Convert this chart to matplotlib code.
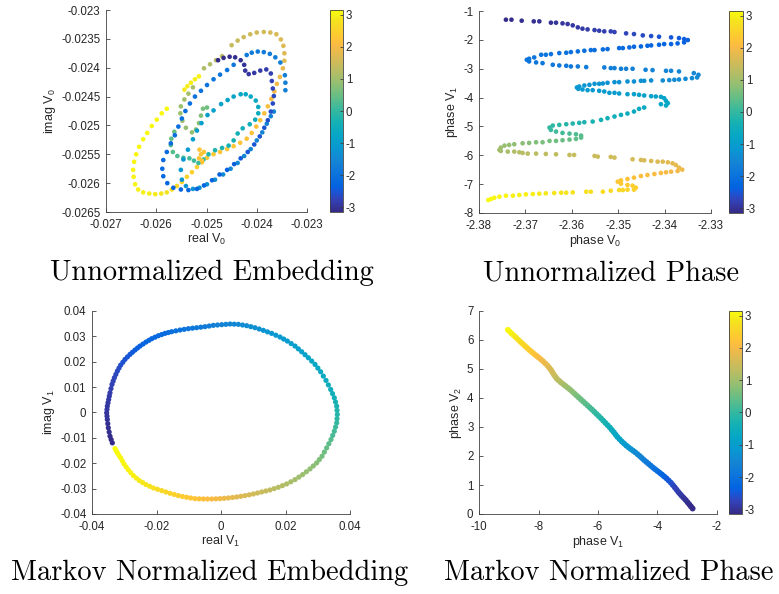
import numpy as np
import matplotlib
matplotlib.use('Agg')
import matplotlib.pyplot as plt
from matplotlib.colors import LinearSegmentedColormap

plt.rcParams['font.family'] = ['Liberation Sans', 'DejaVu Sans']
plt.rcParams['mathtext.fontset'] = 'custom'
plt.rcParams['mathtext.rm'] = 'Liberation Sans'
plt.rcParams['mathtext.it'] = 'Liberation Sans:italic'
plt.rcParams['mathtext.default'] = 'regular'
plt.rcParams['axes.unicode_minus'] = False

# ---------------- Panel 1: Unnormalized Embedding (real V0, imag V0, phase colour)
p1_x = [-0.02579, -0.02589, -0.02599, -0.02609, -0.02618, -0.02626, -0.02634, -0.02640, -0.02644, -0.02646,
        -0.02645, -0.02642, -0.02636, -0.02626, -0.02614, -0.02602, -0.02590, -0.02579,
        -0.02569, -0.02559, -0.02549, -0.02539, -0.02529, -0.02519, -0.02509, -0.02499, -0.02486, -0.02473,
        -0.02459, -0.02446, -0.02433, -0.02420, -0.02410, -0.02401, -0.02393, -0.02385, -0.02378, -0.02371,
        -0.02365, -0.02360, -0.02354,
        -0.02348, -0.02345, -0.02345, -0.02347, -0.02352, -0.02361, -0.02373, -0.02386, -0.02400, -0.02413,
        -0.02426, -0.02438, -0.02450,
        -0.02469, -0.02481, -0.02493, -0.02505,
        -0.02515, -0.02523, -0.02531, -0.02538, -0.02544,
        -0.02527, -0.02536, -0.02544, -0.02551, -0.02552, -0.02548, -0.02541, -0.02529, -0.02521, -0.02515,
        -0.02511, -0.02507, -0.02499,
        -0.02564, -0.02570, -0.02571, -0.02567, -0.02558, -0.02546, -0.02534, -0.02525, -0.02516,
        -0.02506, -0.02496, -0.02483, -0.02469, -0.02456, -0.02446, -0.02438, -0.02428, -0.02414, -0.02403,
        -0.02397, -0.02397, -0.02402, -0.02412, -0.02422, -0.02432,
        -0.02446, -0.02458, -0.02471, -0.02486, -0.02498, -0.02510, -0.02519, -0.02527, -0.02537, -0.02546,
        -0.02551, -0.02549, -0.02541, -0.02527, -0.02514,
        -0.02499, -0.02483, -0.02467, -0.02452, -0.02438, -0.02425, -0.02412, -0.02400, -0.02389, -0.02380,
        -0.02372, -0.02366,
        -0.02343, -0.02343, -0.02344, -0.02353, -0.02363, -0.02374, -0.02386, -0.02398, -0.02410, -0.02420,
        -0.02446, -0.02459, -0.02473, -0.02486, -0.02499, -0.02511, -0.02523, -0.02533, -0.02542, -0.02549,
        -0.02556, -0.02563, -0.02571, -0.02579, -0.02586, -0.02588, -0.02586, -0.02578, -0.02566, -0.02551,
        -0.02536, -0.02519, -0.02505, -0.02489, -0.02474, -0.02459, -0.02445, -0.02432, -0.02418, -0.02405,
        -0.02394, -0.02385, -0.02378, -0.02372, -0.02368, -0.02366,
        -0.02368, -0.02370, -0.02372, -0.02381, -0.02393, -0.02405, -0.02416, -0.02423, -0.02425, -0.02432,
        -0.02443, -0.02454, -0.02466, -0.02477,
        -0.02514, -0.02511, -0.02515, -0.02509, -0.02505]
p1_y = [-0.02471, -0.02479, -0.02490, -0.02501, -0.02513, -0.02524, -0.02537, -0.02550, -0.02563, -0.02577,
        -0.02589, -0.02602, -0.02611, -0.02616, -0.02618, -0.02619, -0.02618, -0.02616,
        -0.02611, -0.02605, -0.02598, -0.02589, -0.02581, -0.02572, -0.02564, -0.02556, -0.02550, -0.02546,
        -0.02541, -0.02536, -0.02530, -0.02523, -0.02513, -0.02502, -0.02491, -0.02479, -0.02467, -0.02454,
        -0.02441, -0.02428, -0.02416,
        -0.02401, -0.02388, -0.02375, -0.02362, -0.02351, -0.02342, -0.02339, -0.02338, -0.02339, -0.02342,
        -0.02347, -0.02353, -0.02361,
        -0.02380, -0.02387, -0.02394, -0.02401,
        -0.02415, -0.02420, -0.02426, -0.02432, -0.02438,
        -0.02434, -0.02445, -0.02455, -0.02467, -0.02479, -0.02492, -0.02504, -0.02512, -0.02507, -0.02496,
        -0.02483, -0.02471, -0.02469,
        -0.02511, -0.02523, -0.02534, -0.02546, -0.02553, -0.02556, -0.02557, -0.02561, -0.02565,
        -0.02559, -0.02550, -0.02543, -0.02539, -0.02535, -0.02526, -0.02514, -0.02505, -0.02498, -0.02490,
        -0.02479, -0.02468, -0.02457, -0.02450, -0.02446, -0.02446,
        -0.02450, -0.02456, -0.02463, -0.02474, -0.02482, -0.02496, -0.02509, -0.02524, -0.02542, -0.02559,
        -0.02577, -0.02594, -0.02605, -0.02610, -0.02608,
        -0.02602, -0.02594, -0.02585, -0.02575, -0.02565, -0.02553, -0.02541, -0.02526, -0.02512, -0.02497,
        -0.02484, -0.02476,
        -0.02439, -0.02426, -0.02413, -0.02391, -0.02382, -0.02376, -0.02373, -0.02372, -0.02374, -0.02378,
        -0.02395, -0.02404, -0.02412, -0.02420, -0.02430, -0.02440, -0.02450, -0.02462, -0.02475, -0.02488,
        -0.02502, -0.02517, -0.02531, -0.02546, -0.02560, -0.02575, -0.02588, -0.02600, -0.02608, -0.02611,
        -0.02612, -0.02610, -0.02604, -0.02595, -0.02585, -0.02577, -0.02567, -0.02557, -0.02546, -0.02533,
        -0.02519, -0.02504, -0.02491, -0.02476, -0.02462, -0.02449,
        -0.02436, -0.02423, -0.02410, -0.02403, -0.02405, -0.02409, -0.02411, -0.02405, -0.02395, -0.02387,
        -0.02382, -0.02381, -0.02383, -0.02387,
        -0.02542, -0.02550, -0.02557, -0.02561, -0.02546]
p1_c = [3.10, 3.10, 3.09, 3.09, 3.08, 3.08, 3.07, 3.06, 3.05, 3.04,
        3.03, 3.02, 3.00, 2.98, 2.95, 2.90, 2.85, 2.78,
        2.70, 2.62, 2.55, 2.50, 2.46, 2.42, 2.38, 2.35, 2.32, 2.30,
        2.28, 2.26, 2.24, 2.22, 2.20, 2.18, 2.16, 2.14, 2.12, 2.08,
        2.02, 1.95, 1.88,
        1.80, 1.75, 1.72, 1.69, 1.66, 1.63, 1.60, 1.57, 1.54, 1.51,
        1.48, 1.45, 1.42,
        1.30, 1.25, 1.20, 1.15,
        3.00, 2.98, 2.96, 2.94, 2.92,
        1.10, 1.06, 1.02, 0.98, 0.95, 0.92, 0.89, 0.86, 0.82, 0.78,
        0.72, 0.62, 0.55,
        0.45, 0.40, 0.35, 0.30, 0.25, 0.20, 0.15, 0.10, 0.05,
        -0.10, -0.18, -0.24, -0.28, -0.32, -0.36, -0.40, -0.44, -0.48, -0.52,
        -0.56, -0.60, -0.64, -0.68, -0.72, -0.76,
        -0.82, -0.86, -0.90, -0.94, -0.97, -1.00, -1.03, -1.06, -1.09, -1.12,
        -1.15, -1.18, -1.21, -1.24, -1.27,
        -1.30, -1.33, -1.36, -1.40, -1.43, -1.46, -1.49, -1.52, -1.55, -1.58,
        -1.60, -1.62,
        -1.65, -1.67, -1.69, -1.71, -1.73, -1.75, -1.77, -1.79, -1.81, -1.83,
        -1.88, -1.90, -1.92, -1.94, -1.96, -1.98, -2.00, -2.02, -2.04, -2.06,
        -2.08, -2.10, -2.12, -2.14, -2.16, -2.18, -2.20, -2.22, -2.24, -2.26,
        -2.28, -2.30, -2.32, -2.34, -2.36, -2.38, -2.40, -2.43, -2.46, -2.49,
        -2.52, -2.55, -2.58, -2.61, -2.64, -2.67,
        -2.72, -2.76, -2.80, -2.84, -2.87, -2.90, -2.93, -2.96, -2.99, -3.02,
        -3.05, -3.08, -3.11, -3.13,
        2.25, 2.24, 2.23, 2.22, 2.26]

# ---------------- Panel 2: Unnormalized Phase (phase V0, phase V1)
p2_x = [-2.3742, -2.3730, -2.3708, -2.3682, -2.3670, -2.3645, -2.3634, -2.3620, -2.3609, -2.3598,
        -2.3587, -2.3577, -2.3566, -2.3551, -2.3541, -2.3530, -2.3516, -2.3508, -2.3483, -2.3466,
        -2.3447, -2.3429, -2.3412, -2.3386, -2.3369, -2.3358, -2.3350,
        -2.3358, -2.3372, -2.3386, -2.3401, -2.3412, -2.3429, -2.3437, -2.3451, -2.3466, -2.3476,
        -2.3490, -2.3498, -2.3523, -2.3533, -2.3551, -2.3559, -2.3573, -2.3587, -2.3602, -2.3612,
        -2.3627, -2.3645, -2.3656, -2.3666, -2.3681, -2.3692, -2.3697, -2.3692, -2.3677, -2.3663,
        -2.3641, -2.3627, -2.3612, -2.3602, -2.3587, -2.3569, -2.3530, -2.3516, -2.3508, -2.3494,
        -2.3483, -2.3469, -2.3441, -2.3426, -2.3397, -2.3386, -2.3369, -2.3337, -2.3327, -2.3330,
        -2.3341,
        -2.3355, -2.3369, -2.3379, -2.3390, -2.3404, -2.3429, -2.3444, -2.3451, -2.3466, -2.3480,
        -2.3498, -2.3508, -2.3523, -2.3533, -2.3541, -2.3551, -2.3562, -2.3573, -2.3584, -2.3589,
        -2.3586, -2.3577, -2.3566, -2.3555, -2.3541, -2.3530,
        -2.3519, -2.3508, -2.3498, -2.3480, -2.3466, -2.3455, -2.3444, -2.3429, -2.3419, -2.3408,
        -2.3401, -2.3397, -2.3393, -2.3397, -2.3408,
        -2.3444, -2.3455, -2.3466, -2.3480, -2.3494, -2.3508, -2.3523, -2.3537, -2.3555, -2.3573,
        -2.3584, -2.3598, -2.3612, -2.3627, -2.3641, -2.3648, -2.3645, -2.3634, -2.3620, -2.3605,
        -2.3591, -2.3580, -2.3580, -2.3591, -2.3605, -2.3620, -2.3634, -2.3648, -2.3663, -2.3677,
        -2.3692, -2.3706, -2.3724, -2.3735, -2.3745, -2.3753, -2.3756, -2.3753, -2.3738,
        -2.3724, -2.3713, -2.3706, -2.3695, -2.3677, -2.3656, -2.3634, -2.3605, -2.3595, -2.3551,
        -2.3544, -2.3516, -2.3508, -2.3469, -2.3451, -2.3444, -2.3429, -2.3415, -2.3404, -2.3393,
        -2.3383, -2.3376, -2.3369, -2.3362,
        -2.3372, -2.3386, -2.3397, -2.3408, -2.3422, -2.3437, -2.3451, -2.3466, -2.3480, -2.3494,
        -2.3501, -2.3494, -2.3480, -2.3469, -2.3462, -2.3466, -2.3480, -2.3490, -2.3498,
        -2.3516, -2.3533, -2.3559, -2.3569, -2.3598, -2.3612, -2.3623, -2.3638, -2.3656, -2.3670,
        -2.3684, -2.3699, -2.3713, -2.3727, -2.3742, -2.3756, -2.3767, -2.3774, -2.3780]
p2_y = [-1.301, -1.301, -1.336, -1.359, -1.359, -1.405, -1.405, -1.428, -1.451, -1.498,
        -1.567, -1.613, -1.637, -1.660, -1.683, -1.706, -1.706, -1.729, -1.775, -1.799,
        -1.845, -1.868, -1.891, -1.914, -1.938, -1.972, -2.007,
        -2.088, -2.123, -2.146, -2.146, -2.169, -2.192, -2.204, -2.227, -2.238, -2.262,
        -2.285, -2.285, -2.319, -2.331, -2.354, -2.354, -2.377, -2.400, -2.424, -2.447,
        -2.458, -2.493, -2.516, -2.516, -2.609, -2.655, -2.690, -2.748, -2.782, -2.806,
        -2.863, -2.887, -2.898, -2.921, -2.921, -2.944, -2.956, -2.979, -2.979, -3.002,
        -3.002, -3.002, -3.037, -3.049, -3.072, -3.072, -3.095, -3.153, -3.211, -3.303,
        -3.326,
        -3.350, -3.373, -3.384, -3.396, -3.407, -3.407, -3.419, -3.419, -3.442, -3.442,
        -3.465, -3.465, -3.488, -3.512, -3.523, -3.523, -3.558, -3.581, -3.616, -3.650,
        -3.697, -3.720, -3.743, -3.743, -3.766, -3.789,
        -3.836, -3.836, -3.859, -3.882, -3.882, -3.905, -3.928, -3.951, -3.963, -3.975,
        -4.021, -4.113, -4.194, -4.275, -4.229,
        -4.345, -4.391, -4.484, -4.553, -4.600, -4.657, -4.715, -4.773, -4.831, -4.854,
        -4.877, -4.900, -4.924, -4.947, -4.970, -5.039, -5.120, -5.178, -5.225, -5.248,
        -5.271, -5.317, -5.387, -5.433, -5.456, -5.479, -5.502, -5.502, -5.549, -5.549,
        -5.572, -5.583, -5.618, -5.641, -5.664, -5.734, -5.815, -5.850, -5.873,
        -5.873, -5.896, -5.919, -5.942, -5.942, -5.954, -5.965, -5.988, -5.988, -6.023,
        -6.046, -6.058, -6.081, -6.139, -6.162, -6.174, -6.197, -6.220, -6.220, -6.243,
        -6.278, -6.336, -6.428, -6.498,
        -6.544, -6.567, -6.590, -6.613, -6.648, -6.683, -6.718, -6.775, -6.822, -6.868,
        -6.914, -6.984, -7.030, -7.053, -7.123, -7.192, -7.192, -7.204, -7.204,
        -7.227, -7.262, -7.262, -7.262, -7.285, -7.296, -7.296, -7.308, -7.319, -7.331,
        -7.343, -7.354, -7.377, -7.400, -7.400, -7.435, -7.470, -7.516, -7.551]
p2_c = [-3.10, -3.08, -3.06, -3.04, -3.02, -3.00, -2.98, -2.96, -2.94, -2.92,
        -2.90, -2.88, -2.86, -2.84, -2.82, -2.80, -2.78, -2.76, -2.72, -2.68,
        -2.64, -2.60, -2.55, -2.50, -2.45, -2.42, -2.40,
        -2.36, -2.34, -2.32, -2.30, -2.28, -2.26, -2.25, -2.23, -2.21, -2.19,
        -2.17, -2.15, -2.13, -2.12, -2.10, -2.09, -2.08, -2.06, -2.04, -2.02,
        -2.00, -1.98, -1.96, -1.95, -1.93, -1.92, -1.91, -1.90, -1.89, -1.88,
        -1.86, -1.84, -1.82, -1.80, -1.78, -1.76, -1.72, -1.70, -1.69, -1.68,
        -1.66, -1.65, -1.62, -1.60, -1.57, -1.56, -1.54, -1.51, -1.49, -1.47,
        -1.46,
        -1.44, -1.42, -1.41, -1.40, -1.38, -1.36, -1.34, -1.33, -1.32, -1.30,
        -1.28, -1.27, -1.26, -1.25, -1.24, -1.23, -1.22, -1.20, -1.18, -1.16,
        -1.14, -1.12, -1.10, -1.09, -1.07, -1.05,
        -1.03, -1.02, -1.00, -0.97, -0.95, -0.93, -0.91, -0.89, -0.87, -0.85,
        -0.83, -0.80, -0.78, -0.76, -0.74,
        -0.68, -0.64, -0.60, -0.55, -0.50, -0.45, -0.40, -0.36, -0.30, -0.25,
        -0.22, -0.18, -0.14, -0.10, -0.06, -0.02, 0.05, 0.10, 0.15, 0.20,
        0.25, 0.30, 0.35, 0.40, 0.45, 0.50, 0.55, 0.60, 0.65, 0.70,
        0.74, 0.78, 0.82, 0.86, 0.90, 0.95, 1.00, 1.05, 1.10,
        1.20, 1.22, 1.24, 1.26, 1.28, 1.31, 1.34, 1.38, 1.40, 1.45,
        1.47, 1.50, 1.52, 1.57, 1.60, 1.62, 1.65, 1.68, 1.70, 1.73,
        1.76, 1.80, 1.85, 1.90,
        1.95, 1.98, 2.01, 2.04, 2.07, 2.10, 2.14, 2.18, 2.22, 2.26,
        2.30, 2.34, 2.38, 2.42, 2.46, 2.50, 2.55, 2.60, 2.63,
        2.66, 2.70, 2.74, 2.77, 2.80, 2.82, 2.84, 2.86, 2.89, 2.92,
        2.95, 2.97, 2.99, 3.01, 3.03, 3.06, 3.08, 3.10, 3.12]

# ---------------- Panel 3: Markov Normalized Embedding (real V1, imag V1)
p3_x = [-0.03370, -0.03442, -0.03494, -0.03525, -0.03545, -0.03525, -0.03483, -0.03442, -0.03380, -0.03307,
        -0.03214, -0.03111, -0.02977, -0.02822, -0.02667, -0.02512, -0.02326, -0.02150, -0.01943, -0.01736,
        -0.01530, -0.01271, -0.01013, -0.00755, -0.00496, -0.00238, 0.00021, 0.00279, 0.00537, 0.00796,
        0.01054, 0.01313, 0.01571, 0.01829, 0.02057, 0.02295, 0.02501, 0.02708, 0.02915, 0.03090,
        0.03256, 0.03401, 0.03514, 0.03587, 0.03607, 0.03587, 0.03514, 0.03411, 0.03276, 0.03132,
        0.02966, 0.02760, 0.02532, 0.02295, 0.02036, 0.01778, 0.01519, 0.01261, 0.01003, 0.00744,
        0.00486, 0.00227, -0.00031, -0.00289, -0.00548, -0.00806, -0.01065, -0.01323, -0.01581, -0.01840,
        -0.02098, -0.02326, -0.02532, -0.02718, -0.02873, -0.03008, -0.03111, -0.03214, -0.03287,
        -0.03406, -0.03468, -0.03510, -0.03535, -0.03535, -0.03504, -0.03463, -0.03411, -0.03344, -0.03261,
        -0.03163, -0.03044, -0.02900, -0.02745, -0.02590, -0.02419, -0.02238, -0.02047, -0.01840, -0.01633,
        -0.01401, -0.01142, -0.00884, -0.00626, -0.00367, -0.00109, 0.00150, 0.00408, 0.00667, 0.00925,
        0.01184, 0.01442, 0.01700, 0.01943, 0.02176, 0.02398, 0.02605, 0.02812, 0.03003, 0.03173,
        0.03329, 0.03458, 0.03551, 0.03597, 0.03597, 0.03551, 0.03463, 0.03344, 0.03204, 0.03049,
        0.02863, 0.02646, 0.02414, 0.02166, 0.01907, 0.01649, 0.01390, 0.01132, 0.00874, 0.00615,
        0.00357, 0.00098, -0.00160, -0.00419, -0.00677, -0.00936, -0.01194, -0.01452, -0.01711, -0.01969,
        -0.02212, -0.02429, -0.02625, -0.02796, -0.02941, -0.03060, -0.03163, -0.03251]
p3_y = [-0.01197, -0.00934, -0.00605, -0.00276, -0.00013, 0.00250, 0.00513, 0.00776, 0.01105, 0.01368,
        0.01632, 0.01868, 0.02092, 0.02289, 0.02461, 0.02618, 0.02776, 0.02908, 0.03026, 0.03118,
        0.03184, 0.03250, 0.03303, 0.03342, 0.03382, 0.03434, 0.03461, 0.03487, 0.03474, 0.03421,
        0.03342, 0.03237, 0.03118, 0.02974, 0.02816, 0.02618, 0.02395, 0.02158, 0.01895, 0.01605,
        0.01263, 0.00908, 0.00579, 0.00250, -0.00079, -0.00408, -0.00737, -0.01066, -0.01395, -0.01724,
        -0.01987, -0.02224, -0.02447, -0.02645, -0.02816, -0.02947, -0.03053, -0.03132, -0.03211, -0.03276,
        -0.03329, -0.03368, -0.03395, -0.03408, -0.03408, -0.03395, -0.03342, -0.03276, -0.03184, -0.03079,
        -0.02974, -0.02842, -0.02684, -0.02487, -0.02263, -0.02026, -0.01789, -0.01592, -0.01421,
        -0.01066, -0.00770, -0.00441, -0.00145, 0.00119, 0.00382, 0.00645, 0.00941, 0.01237, 0.01500,
        0.01750, 0.01980, 0.02191, 0.02375, 0.02540, 0.02697, 0.02842, 0.02967, 0.03072, 0.03151,
        0.03217, 0.03277, 0.03323, 0.03362, 0.03408, 0.03448, 0.03474, 0.03481, 0.03448, 0.03382,
        0.03290, 0.03178, 0.03046, 0.02895, 0.02717, 0.02507, 0.02277, 0.02027, 0.01750, 0.01434,
        0.01086, 0.00744, 0.00415, 0.00086, -0.00244, -0.00573, -0.00902, -0.01231, -0.01560, -0.01856,
        -0.02106, -0.02336, -0.02546, -0.02731, -0.02882, -0.03000, -0.03093, -0.03172, -0.03244, -0.03303,
        -0.03349, -0.03382, -0.03402, -0.03408, -0.03402, -0.03369, -0.03309, -0.03230, -0.03132, -0.03027,
        -0.02908, -0.02763, -0.02586, -0.02375, -0.02145, -0.01908, -0.01691, -0.01507]
p3_c = [-3.12, -3.08, -3.04, -3.00, -2.96, -2.92, -2.88, -2.84, -2.78, -2.72,
        -2.66, -2.60, -2.54, -2.48, -2.42, -2.36, -2.30, -2.24, -2.18, -2.12,
        -2.06, -2.00, -1.92, -1.84, -1.76, -1.68, -1.60, -1.52, -1.45, -1.38,
        -1.31, -1.24, -1.17, -1.10, -1.03, -0.96, -0.89, -0.82, -0.75, -0.67,
        -0.58, -0.49, -0.40, -0.28, -0.15, 0.00, 0.15, 0.30, 0.45, 0.60,
        0.75, 0.85, 0.95, 1.05, 1.15, 1.25, 1.35, 1.45, 1.55, 1.65,
        1.75, 1.85, 1.95, 2.05, 2.15, 2.25, 2.35, 2.45, 2.55, 2.65,
        2.75, 2.85, 2.92, 2.98, 3.02, 3.06, 3.09, 3.11, 3.13,
        -3.10, -3.06, -3.02, -2.98, -2.94, -2.90, -2.86, -2.81, -2.75, -2.69,
        -2.63, -2.57, -2.51, -2.45, -2.39, -2.33, -2.27, -2.21, -2.15, -2.09,
        -2.03, -1.96, -1.88, -1.80, -1.72, -1.64, -1.56, -1.48, -1.41, -1.34,
        -1.27, -1.20, -1.13, -1.06, -0.99, -0.92, -0.85, -0.78, -0.71, -0.62,
        -0.53, -0.44, -0.34, -0.22, -0.08, 0.08, 0.22, 0.38, 0.52, 0.68,
        0.80, 0.90, 1.00, 1.10, 1.20, 1.30, 1.40, 1.50, 1.60, 1.70,
        1.80, 1.90, 2.00, 2.10, 2.20, 2.30, 2.40, 2.50, 2.60, 2.70,
        2.80, 2.89, 2.95, 3.00, 3.04, 3.08, 3.10, 3.12]

# ---------------- Panel 4: Markov Normalized Phase (phase V1, phase V2)
p4_x = [-9.03, -8.965, -8.90, -8.825, -8.75, -8.675, -8.60, -8.525, -8.45, -8.375,
        -8.30, -8.225, -8.15, -8.075, -8.00, -7.925, -7.85, -7.775, -7.70, -7.64,
        -7.58, -7.53, -7.48, -7.43, -7.38, -7.315, -7.25, -7.175, -7.10, -7.025,
        -6.95, -6.875, -6.80, -6.725, -6.65, -6.575, -6.50, -6.425, -6.35, -6.275,
        -6.20, -6.125, -6.05, -5.975, -5.90, -5.825, -5.75, -5.675, -5.60, -5.535,
        -5.47, -5.41, -5.35, -5.275, -5.20, -5.125, -5.05, -4.975, -4.90, -4.825,
        -4.75, -4.675, -4.60, -4.525, -4.45, -4.375, -4.30, -4.225, -4.15, -4.075,
        -4.00, -3.925, -3.85, -3.775, -3.70, -3.625, -3.55, -3.485, -3.42, -3.36,
        -3.30, -3.24, -3.18, -3.115, -3.05, -2.99, -2.93, -2.875, -2.82]
p4_y = [6.35, 6.285, 6.22, 6.15, 6.08, 6.005, 5.93, 5.86, 5.79, 5.72,
        5.65, 5.585, 5.52, 5.46, 5.40, 5.335, 5.27, 5.195, 5.12, 5.045,
        4.97, 4.885, 4.80, 4.73, 4.66, 4.60, 4.54, 4.48, 4.42, 4.36,
        4.30, 4.23, 4.16, 4.09, 4.02, 3.95, 3.88, 3.81, 3.74, 3.67,
        3.60, 3.525, 3.45, 3.375, 3.30, 3.22, 3.14, 3.06, 2.98, 2.90,
        2.82, 2.74, 2.66, 2.58, 2.50, 2.43, 2.36, 2.30, 2.24, 2.185,
        2.13, 2.065, 2.00, 1.93, 1.86, 1.795, 1.73, 1.665, 1.60, 1.54,
        1.48, 1.42, 1.36, 1.295, 1.23, 1.155, 1.08, 1.00, 0.92, 0.84,
        0.76, 0.69, 0.62, 0.55, 0.48, 0.405, 0.33, 0.26, 0.19]
p4_c = [3.10, 3.05, 3.00, 2.93, 2.85, 2.78, 2.70, 2.63, 2.55, 2.48,
        2.40, 2.33, 2.25, 2.18, 2.10, 2.03, 1.95, 1.88, 1.80, 1.73,
        1.65, 1.58, 1.50, 1.43, 1.35, 1.28, 1.20, 1.13, 1.05, 0.98,
        0.90, 0.83, 0.75, 0.68, 0.60, 0.53, 0.45, 0.38, 0.30, 0.23,
        0.15, 0.08, 0.00, -0.08, -0.15, -0.23, -0.30, -0.38, -0.45, -0.53,
        -0.60, -0.68, -0.75, -0.83, -0.90, -0.98, -1.05, -1.13, -1.20, -1.28,
        -1.35, -1.43, -1.50, -1.58, -1.65, -1.73, -1.80, -1.88, -1.95, -2.03,
        -2.10, -2.18, -2.25, -2.33, -2.40, -2.48, -2.55, -2.63, -2.70, -2.76,
        -2.82, -2.87, -2.92, -2.96, -3.00, -3.04, -3.07, -3.10, -3.12]

# tick definitions
p1_xticks = [-0.027, -0.026, -0.025, -0.024, -0.023]
p1_xtl = ['-0.027', '-0.026', '-0.025', '-0.024', '-0.023']
p1_yticks = [-0.0265, -0.026, -0.0255, -0.025, -0.0245, -0.024, -0.0235, -0.023]
p1_ytl = ['-0.0265', '-0.026', '-0.0255', '-0.025', '-0.0245', '-0.024', '-0.0235', '-0.023']
p2_xticks = [-2.38, -2.37, -2.36, -2.35, -2.34, -2.33]
p2_xtl = ['-2.38', '-2.37', '-2.36', '-2.35', '-2.34', '-2.33']
p2_yticks = [-8, -7, -6, -5, -4, -3, -2, -1]
p2_ytl = ['-8', '-7', '-6', '-5', '-4', '-3', '-2', '-1']
p3_xticks = [-0.04, -0.02, 0, 0.02, 0.04]
p3_xtl = ['-0.04', '-0.02', '0', '0.02', '0.04']
p3_yticks = [-0.04, -0.03, -0.02, -0.01, 0, 0.01, 0.02, 0.03, 0.04]
p3_ytl = ['-0.04', '-0.03', '-0.02', '-0.01', '0', '0.01', '0.02', '0.03', '0.04']
p4_xticks = [-10, -8, -6, -4, -2]
p4_xtl = ['-10', '-8', '-6', '-4', '-2']
p4_yticks = [0, 1, 2, 3, 4, 5, 6, 7]
p4_ytl = ['0', '1', '2', '3', '4', '5', '6', '7']
cb_ticks = [-3, -2, -1, 0, 1, 2, 3]
cb_tl = ['-3', '-2', '-1', '0', '1', '2', '3']

titles = ['Unnormalized Embedding', 'Unnormalized Phase',
          'Markov Normalized Embedding', 'Markov Normalized Phase']

# parula colormap
parula_anchors = [
    (0.2081, 0.1663, 0.5292), (0.1959, 0.2645, 0.7279), (0.0591, 0.3598, 0.8683),
    (0.0117, 0.3875, 0.8820), (0.0498, 0.4586, 0.8641), (0.0793, 0.5200, 0.8312),
    (0.0343, 0.5966, 0.8199), (0.0228, 0.6535, 0.7768), (0.0843, 0.6928, 0.7062),
    (0.2178, 0.7250, 0.6193), (0.3953, 0.7459, 0.5244), (0.5709, 0.7485, 0.4494),
    (0.7184, 0.7411, 0.3905), (0.8507, 0.7299, 0.3360), (0.9739, 0.7314, 0.2666),
    (0.9990, 0.7653, 0.2164), (0.9880, 0.8066, 0.1794), (0.9589, 0.8949, 0.1132),
    (0.9763, 0.9831, 0.0538)]
parula_pos = [0, 4/63, 7/63, 8/63, 12/63, 16/63, 20/63, 24/63, 28/63, 32/63, 36/63,
              40/63, 44/63, 48/63, 52/63, 54/63, 56/63, 60/63, 1.0]
parula = LinearSegmentedColormap.from_list('parula', list(zip(parula_pos, parula_anchors)))

W, H = 779, 594
fig = plt.figure(figsize=(W / 100, H / 100), dpi=100)
TXT = '#262626'
AX = '#404040'


def rect(l, r, t, b):
    return [l / W, 1 - b / H, (r - l) / W, (b - t) / H]


def style(ax, xt, xtl, yt, ytl, xlab, ylab):
    ax.set_xticks(xt)
    ax.set_xticklabels(xtl)
    ax.set_yticks(yt)
    ax.set_yticklabels(ytl)
    ax.set_xlim(xt[0], xt[-1])
    ax.set_ylim(yt[0], yt[-1])
    for s in ['top', 'right']:
        ax.spines[s].set_visible(False)
    for s in ['left', 'bottom']:
        ax.spines[s].set_color(AX)
        ax.spines[s].set_linewidth(0.6)
    ax.tick_params(direction='in', length=3, width=0.6, color=AX,
                   labelsize=8.3, labelcolor=TXT)
    ax.tick_params(axis='x', pad=5)
    ax.tick_params(axis='y', pad=4)
    ax.set_xlabel(xlab, fontsize=9, color=TXT, labelpad=1)
    ax.set_ylabel(ylab, fontsize=9, color=TXT, labelpad=2)


def cbar(sc, r):
    cax = fig.add_axes(r)
    cb = fig.colorbar(sc, cax=cax)
    cb.set_ticks(cb_ticks)
    cb.set_ticklabels(cb_tl)
    cb.outline.set_edgecolor(AX)
    cb.outline.set_linewidth(0.6)
    cax.tick_params(direction='in', length=2, width=0.6, color=AX,
                    labelsize=8.3, labelcolor=TXT, pad=2)
    return cb


# Panel 1
ax1 = fig.add_axes(rect(106, 307, 10, 212))
sc1 = ax1.scatter(p1_x, p1_y, c=p1_c, cmap=parula, vmin=-np.pi, vmax=np.pi, s=11, linewidths=0)
style(ax1, p1_xticks, p1_xtl, p1_yticks, p1_ytl, 'real V$_0$', 'imag V$_0$')
cbar(sc1, rect(330, 343, 10, 212))

# Panel 2
ax2 = fig.add_axes(rect(479, 711, 11, 213))
sc2 = ax2.scatter(p2_x, p2_y, c=p2_c, cmap=parula, vmin=-np.pi, vmax=np.pi, s=11, linewidths=0)
style(ax2, p2_xticks, p2_xtl, p2_yticks, p2_ytl, 'phase V$_0$', 'phase V$_1$')
cbar(sc2, rect(729, 743, 11, 213))

# Panel 3
ax3 = fig.add_axes(rect(92, 350, 311, 514))
ax3.scatter(p3_x, p3_y, c=p3_c, cmap=parula, vmin=-np.pi, vmax=np.pi, s=14, linewidths=0)
style(ax3, p3_xticks, p3_xtl, p3_yticks, p3_ytl, 'real V$_1$', 'imag V$_1$')

# Panel 4
ax4 = fig.add_axes(rect(479, 717, 311, 514))
sc4 = ax4.scatter(p4_x, p4_y, c=p4_c, cmap=parula, vmin=-np.pi, vmax=np.pi, s=18, linewidths=0)
style(ax4, p4_xticks, p4_xtl, p4_yticks, p4_ytl, 'phase V$_1$', 'phase V$_2$')
cbar(sc4, rect(729, 742, 311, 514))

# titles below panels
title_pos = [(212, 273), (611, 273), (210, 573), (609, 573)]
for t, (tx, ty) in zip(titles, title_pos):
    fig.text(tx / W, 1 - ty / H, t, ha='center', va='center', fontsize=20.5,
             family='cmr10', color='black')

fig.savefig('out.png', dpi=100)
